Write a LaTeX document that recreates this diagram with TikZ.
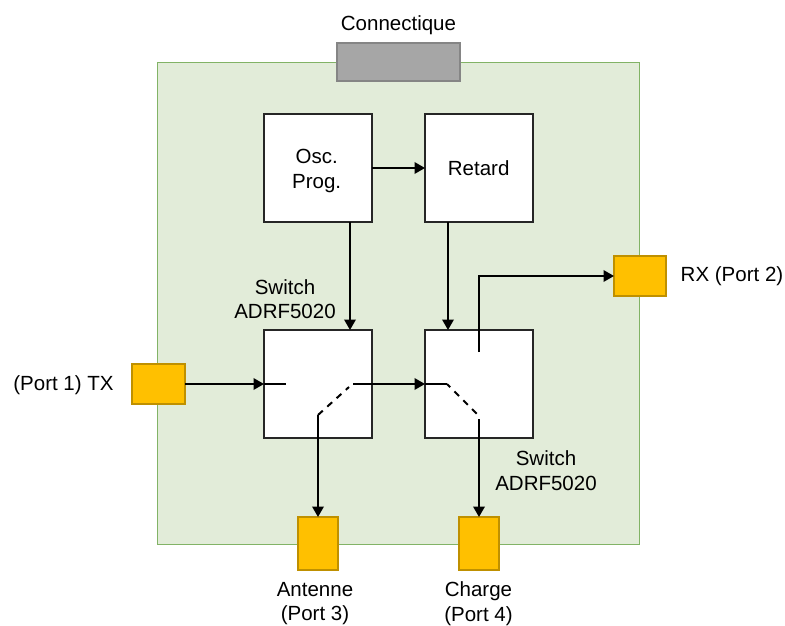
\documentclass[tikz,border=0pt]{standalone}
\usepackage{fontspec}
\setmainfont{Liberation Sans}
\usetikzlibrary{arrows.meta}
\tikzset{
  rect/.style={draw,outer sep=0pt,inner sep=0pt,line width=2pt},
  board/.style={rect,draw=boardline,fill=boardfill,line width=1.3pt},
  connbox/.style={rect,draw=grayline,fill=grayfill,line width=2pt},
  blockbox/.style={rect,draw=black!85,fill=white,minimum width=108pt,minimum height=108pt},
  portbox/.style={rect,draw=portline,fill=portfill,line width=2pt},
  lbl/.style={align=center,inner sep=0pt,font=\fontsize{20.5}{24.5}\selectfont},
  wire/.style={draw=black,line width=2pt},
  arrowwire/.style={wire,-{Triangle[length=10.5pt,width=11.5pt]}},
  dashwire/.style={wire,dash pattern=on 6.5pt off 6pt}
}
\definecolor{boardfill}{HTML}{E2ECD9}
\definecolor{boardline}{HTML}{82B366}
\definecolor{grayfill}{HTML}{A6A6A6}
\definecolor{grayline}{HTML}{858585}
\definecolor{portfill}{HTML}{FFC000}
\definecolor{portline}{HTML}{BF9000}
\begin{document}
\begin{tikzpicture}[x=1pt,y=-1pt]
\useasboundingbox (0,0) rectangle (785,626);
\node[board,minimum width=482pt,minimum height=482pt] (pcb) at (398.5,303.5) {};
\node[connbox,minimum width=123pt,minimum height=38pt] (conn) at (398.5,62) {};
\node[lbl] (connl) at (398.5,25) {Connectique};
\node[blockbox] (osc) at (318,168) {};
\node[blockbox] (ret) at (479,168) {};
\node[lbl] (oscl) at (316.7,171) {Osc.\\Prog.};
\node[lbl] (retl) at (478.7,168) {Retard};
\node[blockbox] (swa) at (318,384) {};
\node[blockbox] (swb) at (479,384) {};
\node[portbox,minimum width=53pt,minimum height=40pt] (p1) at (158.5,384) {};
\node[portbox,minimum width=52pt,minimum height=40pt] (p2) at (640,276) {};
\node[portbox,minimum width=40pt,minimum height=53pt] (p3) at (318,543.5) {};
\node[portbox,minimum width=40pt,minimum height=53pt] (p4) at (479,543.5) {};
\node[lbl] (l1) at (63.5,385.5) {(Port 1) TX};
\node[lbl] (l2) at (732,276) {RX (Port 2)};
\node[lbl] (l3) at (315,603.5) {Antenne\\(Port 3)};
\node[lbl] (l4) at (478.5,603.5) {Charge\\(Port 4)};
\node[lbl] (l5) at (285,299) {Switch\\ADRF5020};
\node[lbl] (l6) at (546,470.5) {Switch\\ADRF5020};
\coordinate (a1) at (286,384);
\coordinate (a2) at (353,384);
\coordinate (a3) at (349,387);
\coordinate (a4) at (318,415);
\coordinate (b1) at (447,384);
\coordinate (b2) at (477.5,414.5);
\coordinate (b3) at (479,419);
\coordinate (b4) at (479,352);
\coordinate (tapa) at (350,222);
\coordinate (tapb) at (448,222);
\draw[arrowwire] (osc.east) -- (ret.west);
\draw[arrowwire] (tapa) -- (tapa |- swa.north);
\draw[arrowwire] (tapb) -- (tapb |- swb.north);
\draw[arrowwire] (p1.east) -- (swa.west);
\draw[wire] (swa.west) -- (a1);
\draw[wire] (a2) -- (swa.east);
\draw[arrowwire] (swa.east) -- (swb.west);
\draw[wire] (swb.west) -- (b1);
\draw[dashwire] (a4) -- (a3);
\draw[dashwire,dash phase=2pt] (b1) -- (b2);
\draw[arrowwire] (a4) -- (p3.north);
\draw[arrowwire] (b3) -- (p4.north);
\draw[arrowwire] (b4) |- (p2.west);
\end{tikzpicture}
\end{document}
